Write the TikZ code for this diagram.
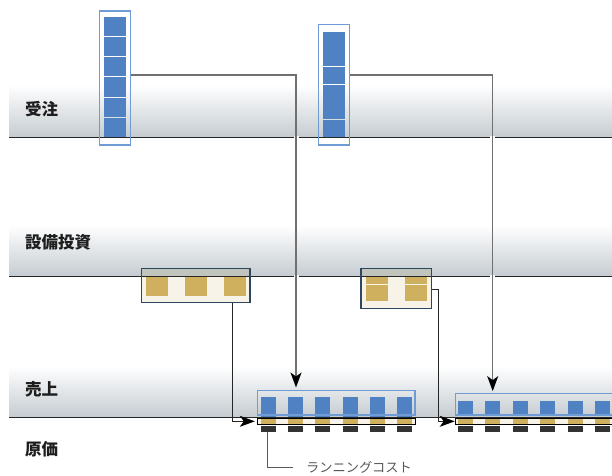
\documentclass[tikz,border=0pt]{standalone}
\usepackage{fontspec}
\newfontfamily\jp{Noto Sans CJK JP}
\usetikzlibrary{arrows.meta,calc}
\definecolor{cellblue}{RGB}{79,129,195}
\definecolor{boxblue}{RGB}{112,156,214}
\definecolor{gold}{RGB}{207,176,94}
\definecolor{cream}{RGB}{247,243,233}
\definecolor{bandgray}{RGB}{197,204,209}
\definecolor{darkcell}{RGB}{51,51,51}
\definecolor{invframe}{RGB}{45,72,94}
\definecolor{conngray}{RGB}{112,112,112}
\definecolor{overlap}{RGB}{192,196,189}
\definecolor{labeltext}{RGB}{30,30,30}
\tikzset{
  bandfill/.style={top color=white,bottom color=bandgray},
  bandline/.style={draw=black!85,line width=0.9pt},
  lanelabel/.style={font=\jp\bfseries\fontsize{16.5}{18}\selectfont,text=labeltext,anchor=west,inner sep=0pt},
  colbox/.style={draw=boxblue,line width=1.4pt,rectangle,inner sep=0pt},
  salesbox/.style={draw=boxblue,line width=1.4pt,rectangle,inner sep=0pt},
  invbox/.style={draw=invframe,line width=1.4pt,rectangle,inner sep=0pt},
  costbar/.style={draw=black,fill=cream,line width=1pt,rectangle,inner sep=0pt},
  orderconn/.style={draw=conngray,line width=1.4pt,-{Stealth[length=15pt 0,width=11pt 0,inset=4pt 0,black]}},
  invconn/.style={draw=black!85,line width=0.9pt,-{Stealth[length=15pt 0,width=11pt 0,inset=4pt 0,black]}},
  noteline/.style={draw=black!65,line width=0.9pt},
  notetext/.style={font=\jp\fontsize{13.2}{15}\selectfont,text=black!65,anchor=west,inner sep=0pt},
}
\begin{document}
\begin{tikzpicture}[x=1pt,y=-1pt]
\useasboundingbox (0,0) rectangle (612,475);
\clip (0,0) rectangle (612,475);

% investment box backgrounds (cream) drawn under the bands
\fill[cream] (141.7,268.3) rectangle (250,302.7);
\fill[cream] (361,268.3) rectangle (431.7,308.3);

% lanes
\shade[bandfill] (9,85) rectangle (612,137);
\shade[bandfill] (9,225) rectangle (612,276);
\shade[bandfill] (9,366) rectangle (612,417);
\fill[overlap] (141.7,268.3) rectangle (250,276);
\fill[overlap] (361,268.3) rectangle (431.7,276);
\draw[bandline] (9,137) -- (612,137);
\draw[bandline] (9,276) -- (612,276);
\draw[bandline] (9,417) -- (612,417);

\node[lanelabel] (l1) at (25,109) {受注};
\node[lanelabel] (l2) at (25,242) {設備投資};
\node[lanelabel] (l3) at (25,389.5) {売上};
\node[lanelabel] (l4) at (25,449.5) {原価};

% order columns
\foreach \i in {0,...,5}
  \fill[cellblue] (104,16.7+\i*20.26) rectangle (126,35.9+\i*20.26);
\node[colbox,minimum width=31.4pt,minimum height=134pt] (A) at (115,78) {};

\fill[cellblue] (322.7,31.7) rectangle (345,66);
\fill[cellblue] (322.7,67.3) rectangle (345,83.6);
\fill[cellblue] (322.7,85) rectangle (345,118.7);
\fill[cellblue] (322.7,120) rectangle (345,136.7);
\node[colbox,minimum width=31pt,minimum height=120.7pt] (B) at (333.8,84.65) {};

% investment boxes
\node[invbox,minimum width=108.3pt,minimum height=34.4pt] (I1) at (195.85,285.5) {};
\foreach \x in {146,185,224}
  \fill[gold] (\x,276.7) rectangle (\x+21.7,295.7);
\node[invbox,minimum width=70.7pt,minimum height=40pt] (I2) at (396.35,288.3) {};
\foreach \x in {366,405} {
  \fill[gold] (\x,276.7) rectangle (\x+21.7,284);
  \fill[gold] (\x,285.3) rectangle (\x+21.7,300.7);
}

% sales group 1
\foreach \i in {0,...,5}
  \fill[cellblue] (261+\i*27.2,397.3) rectangle (276+\i*27.2,416.7);
\node[salesbox,minimum width=157.7pt,minimum height=24.3pt] (S1) at (336.15,402.85) {};
\node[costbar,minimum width=157.7pt,minimum height=6pt] (C1) at (336.15,421.3) {};
\foreach \i in {0,...,5} {
  \fill[gold] (261+\i*27.2,418.8) rectangle (276+\i*27.2,423.8);
  \fill[darkcell] (261+\i*27.2,426) rectangle (276+\i*27.2,431.7);
}

% sales group 2
\foreach \i in {0,...,5}
  \fill[cellblue] (458+\i*27.4,401) rectangle (473+\i*27.4,416.2);
\node[salesbox,minimum width=164.3pt,minimum height=21.7pt] (S2) at (537.85,404.15) {};
\node[costbar,minimum width=164.3pt,minimum height=6pt] (C2) at (537.85,421.3) {};
\foreach \i in {0,...,5} {
  \fill[gold] (458+\i*27.4,418.8) rectangle (473+\i*27.4,423.8);
  \fill[darkcell] (458+\i*27.4,426) rectangle (473+\i*27.4,431.7);
}

% gaps where the order connectors cross lane lines
\foreach \x in {296,492.7} {
  \fill[white] (\x-2.5,135.6) rectangle (\x+2.5,138.4);
  \fill[white] (\x-2.5,274.6) rectangle (\x+2.5,277.4);
}

% connectors
\draw[orderconn,shorten >=2.5pt] ([yshift=3pt]A.east) -| ([xshift=-40.15pt]S1.north);
\draw[orderconn,shorten >=1.5pt] ([yshift=9.65pt]B.east) -| ([xshift=-45.15pt]S2.north);
\draw[invconn,shorten >=2pt] ([xshift=36.45pt]I1.south) |- (C1.west);
\draw[invconn,shorten >=0.5pt] ([yshift=-1pt]I2.east) -- ++(6,0) |- (C2.west);

% running cost note
\coordinate (rcA) at (267.7,431.7);
\node[notetext] (RC) at (306,467) {ランニングコスト};
\draw[noteline] (rcA) |- ([xshift=-13.3pt]RC.west);
\end{tikzpicture}
\end{document}
